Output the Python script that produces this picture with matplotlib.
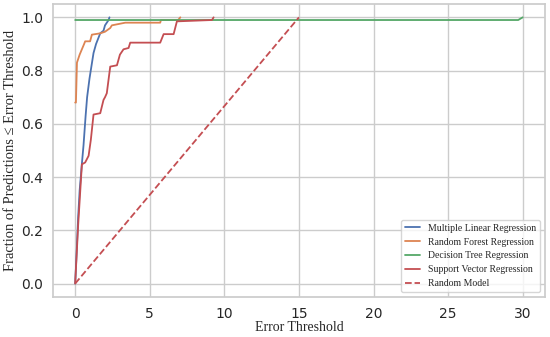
import matplotlib
matplotlib.use("Agg")
import matplotlib.pyplot as plt
import seaborn as sns

# error threshold / fraction curves
mlr_x = [0, 0.1, 0.2, 0.3, 0.45, 0.56, 0.7, 0.8, 0.96, 1.1, 1.23, 1.4, 1.68, 1.9, 2.0, 2.24, 2.3]
mlr_y = [0, 0.12, 0.25, 0.35, 0.45, 0.52, 0.63, 0.70, 0.77, 0.82, 0.866, 0.90, 0.94, 0.95, 0.97, 0.99, 1.0]

rf_x = [0, 0.05, 0.12, 0.18, 0.3, 0.45, 0.6, 0.67, 1.0, 1.12, 1.68, 2.0, 2.35, 2.46, 3.36, 5.7, 5.75, 6.9, 7.05]
rf_y = [0.68, 0.68, 0.83, 0.84, 0.86, 0.88, 0.90, 0.91, 0.91, 0.935, 0.94, 0.946, 0.96, 0.97, 0.98, 0.98, 0.99, 0.99, 1.0]

dt_x = [0, 29.7, 30]
dt_y = [0.99, 0.99, 1.0]

svr_x = [0, 0.2, 0.45, 0.67, 0.9, 1.05, 1.23, 1.68, 1.9, 2.0, 2.12, 2.35, 2.8, 3.0, 3.24, 3.58, 3.69,
         5.7, 5.93, 6.6, 6.82, 9.17, 9.28]
svr_y = [0, 0.22, 0.448, 0.455, 0.48, 0.54, 0.635, 0.64, 0.69, 0.70, 0.715, 0.815, 0.82, 0.86, 0.88, 0.885, 0.905,
         0.905, 0.937, 0.937, 0.985, 0.99, 1.0]

rand_x = [0, 15]
rand_y = [0, 1.0]

sns.set_theme(style="whitegrid")
serif = ["Liberation Serif", "DejaVu Serif"]

fig, ax = plt.subplots(figsize=(5.5, 3.37), dpi=100)
pal = sns.color_palette()

ax.plot(mlr_x, mlr_y, color=pal[0], lw=1.3, label="Multiple Linear Regression")
ax.plot(rf_x, rf_y, color=pal[1], lw=1.3, label="Random Forest Regression")
ax.plot(dt_x, dt_y, color=pal[2], lw=1.3, label="Decision Tree Regression")
ax.plot(svr_x, svr_y, color=pal[3], lw=1.3, label="Support Vector Regression")
ax.plot(rand_x, rand_y, color=pal[3], lw=1.3, ls="--", label="Random Model")

ax.set_xlim(-1.5, 31.5)
ax.set_ylim(-0.05, 1.05)
ax.set_xlabel("Error Threshold", family=serif, fontsize=10, labelpad=0)
ax.set_ylabel("Fraction of Predictions \u2264 Error Threshold", family=serif, fontsize=10.5, labelpad=3)
ax.tick_params(labelsize=10, pad=1)
ax.legend(loc="lower right", prop={"family": serif, "size": 7}, handlelength=1.6)

fig.subplots_adjust(left=0.096, right=0.991, top=0.988, bottom=0.119)
fig.savefig("out.png", dpi=100)
